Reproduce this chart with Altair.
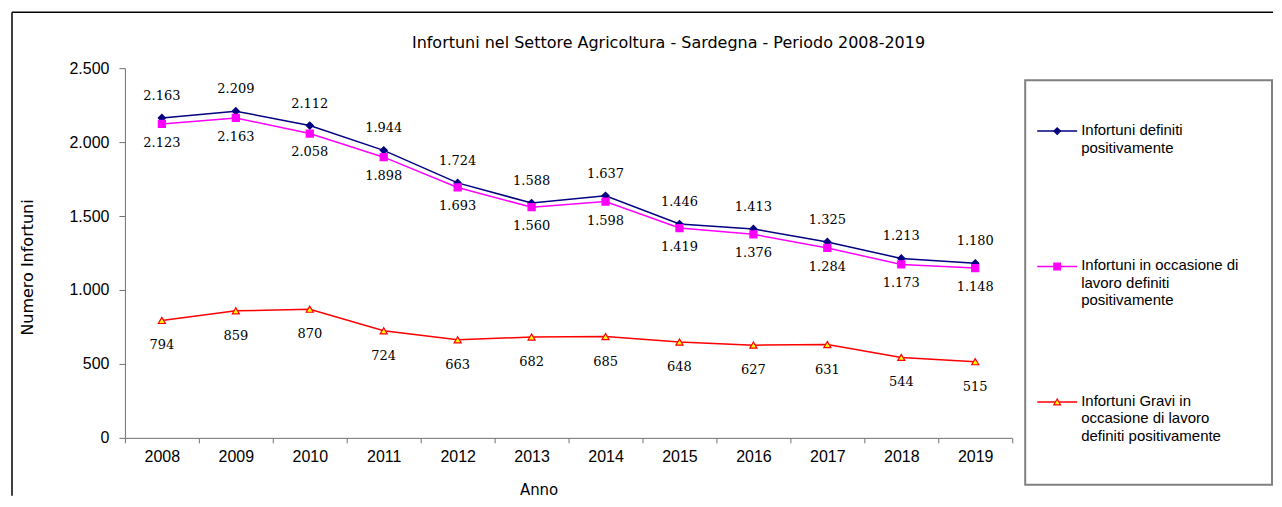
import altair as alt
import pandas as pd

years = [str(y) for y in range(2008, 2020)]
s_def = [2163, 2209, 2112, 1944, 1724, 1588, 1637, 1446, 1413, 1325, 1213, 1180]
s_lav = [2123, 2163, 2058, 1898, 1693, 1560, 1598, 1419, 1376, 1284, 1173, 1148]
s_grav = [794, 859, 870, 724, 663, 682, 685, 648, 627, 631, 544, 515]

names = [
    "Infortuni definiti positivamente",
    "Infortuni in occasione di lavoro definiti positivamente",
    "Infortuni Gravi in occasione di lavoro definiti positivamente",
]
legend_labels = [
    "Infortuni definiti\npositivamente",
    "Infortuni in occasione di\nlavoro definiti\npositivamente",
    "Infortuni Gravi in\noccasione di lavoro\ndefiniti positivamente",
]
title_text = "Infortuni nel Settore Agricoltura - Sardegna - Periodo 2008-2019"
line_colors = ["#000080", "#FF00FF", "#FF0000"]
fill_colors = ["#000080", "#FF00FF", "#FFFF00"]
shapes = ["diamond", "square", "triangle-up"]
label_dy = [-22, 19, 25]

rows = []
for name, vals in zip(names, [s_def, s_lav, s_grav]):
    for y, v in zip(years, vals):
        rows.append({"Anno": y, "Serie": name, "Valore": v,
                     "Etichetta": f"{v:,}".replace(",", ".")})
df = pd.DataFrame(rows)

color_sc = alt.Scale(domain=names, range=line_colors)
fill_sc = alt.Scale(domain=names, range=fill_colors)
shape_sc = alt.Scale(domain=names, range=shapes)

x_enc = alt.X("Anno:O", bandPosition=0.5,
              scale=alt.Scale(type="band", paddingInner=0, paddingOuter=0),
              axis=alt.Axis(title="Anno", labelAngle=0, tickBand="extent",
                            labelFontSize=16, labelPadding=6, tickSize=5,
                            titleFont="DejaVu Sans", titleFontSize=15, titleFontWeight="normal",
                            titleX=414, titleY=45, titleAlign="center",
                            domainColor="#707070", tickColor="#707070",
                            labelColor="#000000", titleColor="#000000"))
y_enc = alt.Y("Valore:Q",
              scale=alt.Scale(domain=[0, 2500], nice=False),
              axis=alt.Axis(title="Numero Infortuni", values=[0, 500, 1000, 1500, 2000, 2500],
                            labelExpr="replace(format(datum.value, ','), ',', '.')",
                            grid=False, tickSize=6, labelPadding=10, labelFontSize=16,
                            titleFont="DejaVu Sans", titleFontSize=16, titleFontWeight="normal",
                            titleX=-89, titleY=199, titleAlign="center",
                            domainColor="#707070", tickColor="#707070",
                            labelColor="#000000", titleColor="#000000"))

base = alt.Chart(df)
lines = base.mark_line(strokeWidth=1.5).encode(
    x=x_enc, y=y_enc,
    color=alt.Color("Serie:N", scale=color_sc, legend=None),
    detail="Serie:N",
)
points = base.mark_point(filled=False, opacity=1, strokeWidth=1.2, size=50).encode(
    x=x_enc, y=y_enc,
    shape=alt.Shape("Serie:N", scale=shape_sc, legend=None),
    fill=alt.Fill("Serie:N", scale=fill_sc, legend=None),
    stroke=alt.Stroke("Serie:N", scale=color_sc, legend=None),
)
label_layers = []
for name, dy in zip(names, label_dy):
    label_layers.append(
        base.transform_filter(alt.datum.Serie == name)
        .mark_text(font="DejaVu Serif", fontSize=13, dy=dy, color="#000000")
        .encode(x=x_enc, y=y_enc, text="Etichetta:N")
    )

one = pd.DataFrame({"k": [0]})
border_top = alt.Chart(one).mark_rule(stroke="#000000", strokeWidth=1.5).encode(
    x=alt.value(-113), x2=alt.value(1149), y=alt.value(-56))
border_left = alt.Chart(one).mark_rule(stroke="#000000", strokeWidth=1.5).encode(
    x=alt.value(-113), y=alt.value(-56), y2=alt.value(428))
title = alt.Chart(one).mark_text(text=title_text, font="DejaVu Sans", fontSize=16,
                                 color="#000000", baseline="middle", align="center").encode(
    x=alt.value(544), y=alt.value(-25))

# legend drawn as its own layer to the right of the plot
leg_df = pd.DataFrame({"Serie": names, "Testo": legend_labels, "idx": [0, 1, 2]})
leg_y = alt.Y("idx:O", scale=alt.Scale(type="point", range=[63, 334], padding=0), axis=None)
leg_base = alt.Chart(leg_df)
box = alt.Chart(one).mark_rect(
    fill="#ffffff", stroke="#808080", strokeWidth=2
).encode(x=alt.value(901), x2=alt.value(1148), y=alt.value(12), y2=alt.value(417))
leg_rule = leg_base.mark_rule(strokeWidth=1.5).encode(
    x=alt.value(913), x2=alt.value(953), y=leg_y,
    color=alt.Color("Serie:N", scale=color_sc, legend=None),
)
leg_pt = leg_base.mark_point(filled=False, opacity=1, strokeWidth=1.2, size=45).encode(
    x=alt.value(933), y=leg_y,
    shape=alt.Shape("Serie:N", scale=shape_sc, legend=None),
    fill=alt.Fill("Serie:N", scale=fill_sc, legend=None),
    stroke=alt.Stroke("Serie:N", scale=color_sc, legend=None),
)
leg_txt = leg_base.mark_text(align="left", baseline="top", dy=-8, lineBreak="\n",
                             fontSize=15, lineHeight=17.5, color="#000000").encode(
    x=alt.value(957), y=leg_y, text="Testo:N"
)
legend = alt.layer(box, leg_rule, leg_pt, leg_txt)

main = alt.layer(border_top, border_left, title, lines, points, *label_layers)

chart = alt.layer(main, legend).resolve_scale(y="independent").properties(
    width=888, height=370,
    padding={"left": 3, "top": 3, "right": 0, "bottom": 0},
).configure(font="Liberation Sans").configure_view(strokeWidth=0)

chart.save("out.html", embed_options={"renderer": "svg", "actions": False})
